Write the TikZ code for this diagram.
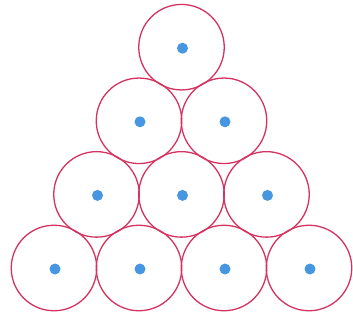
\documentclass[tikz,border=0pt]{standalone}
\definecolor{ringc}{RGB}{212,50,95}
\definecolor{dotb}{RGB}{70,150,225}
\begin{document}
\begin{tikzpicture}[x=1pt,y=-1pt,
  ring/.style={circle,draw=ringc,line width=1.3pt,minimum size=85.5pt,inner sep=0pt},
  dotc/.style={circle,fill=dotb,minimum size=11pt,inner sep=0pt}]
\useasboundingbox (0,0) rectangle (353,320);
\foreach \n/\x/\y in {a/181.5/47.2, b/139/120.8, c/224/120.8, d/96.5/194.4, e/181.5/194.4, f/266.5/194.4, g/54/268, h/139/268, i/224/268, j/309/268}{
  \node[ring] (\n) at (\x,\y) {};
  \node[dotc] (\n d) at (\x+1,\y+1) {};
}
\end{tikzpicture}
\end{document}
